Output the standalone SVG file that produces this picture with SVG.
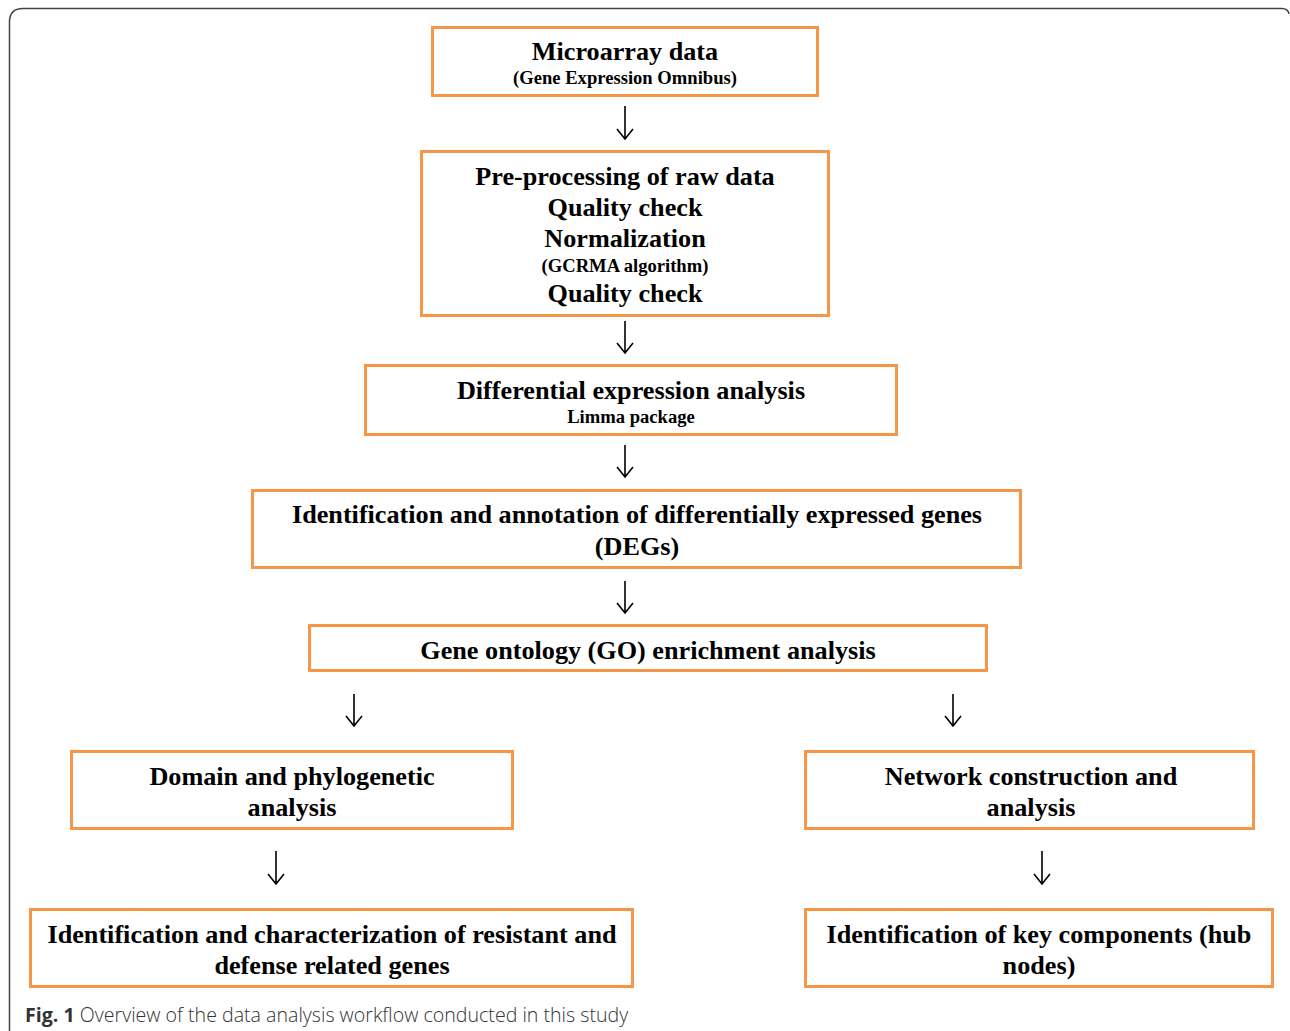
<svg xmlns="http://www.w3.org/2000/svg" width="1290" height="1031" viewBox="0 0 1290 1031">
<style>
.box{fill:#fff;stroke:#f79646;stroke-width:3}
.t{font-family:"Liberation Serif","Times New Roman",serif;font-weight:bold;fill:#000;text-anchor:middle}
.l{font-size:26.2px}
.s{font-size:18.6px}
.c{stroke:#000;stroke-width:1.6;fill:none}
.cap{font-family:"Open Sans","Noto Sans",sans-serif;font-size:19.6px;fill:#333;font-weight:300}
</style>
<rect width="1290" height="1031" fill="#fff"/>
<path d="M9.5 1031 V22 Q9.5 8.5 23 8.5 H1282 Q1288 8.5 1289 14" fill="none" stroke="#444" stroke-width="1.5"/>
<g id="n1"><rect class="box" x="432.5" y="27.5" width="385" height="68"/>
<text class="t l" x="625" y="60">Microarray data</text>
<text class="t s" x="625" y="84">(Gene Expression Omnibus)</text></g>
<g id="n2"><rect class="box" x="421.5" y="151.5" width="407" height="164"/>
<text class="t l" x="625" y="185">Pre-processing of raw data</text>
<text class="t l" x="625" y="216">Quality check</text>
<text class="t l" x="625" y="247">Normalization</text>
<text class="t s" x="625" y="272">(GCRMA algorithm)</text>
<text class="t l" x="625" y="302">Quality check</text></g>
<g id="n3"><rect class="box" x="365.5" y="365.5" width="531" height="69"/>
<text class="t l" x="631" y="399">Differential expression analysis</text>
<text class="t s" x="631" y="423">Limma package</text></g>
<g id="n4"><rect class="box" x="252.5" y="490.5" width="768" height="77"/>
<text class="t l" x="637" y="523">Identification and annotation of differentially expressed genes</text>
<text class="t l" x="637" y="555">(DEGs)</text></g>
<g id="n5"><rect class="box" x="309.5" y="625.5" width="677" height="45"/>
<text class="t l" x="648" y="659">Gene ontology (GO) enrichment analysis</text></g>
<g id="n6"><rect class="box" x="71.5" y="751.5" width="441" height="77"/>
<text class="t l" x="292" y="785">Domain and phylogenetic</text>
<text class="t l" x="292" y="816">analysis</text></g>
<g id="n7"><rect class="box" x="805.5" y="751.5" width="448" height="77"/>
<text class="t l" x="1031" y="785">Network construction and</text>
<text class="t l" x="1031" y="816">analysis</text></g>
<g id="n8"><rect class="box" x="30.5" y="909.5" width="602" height="77"/>
<text class="t l" x="332" y="943">Identification and characterization of resistant and</text>
<text class="t l" x="332" y="974">defense related genes</text></g>
<g id="n9"><rect class="box" x="805.5" y="909.5" width="467" height="77"/>
<text class="t l" x="1039" y="943">Identification of key components (hub</text>
<text class="t l" x="1039" y="974">nodes)</text></g>
<g id="connectors">
<path class="c" d="M625 106V139M617 129L625 139L633 129"/>
<path class="c" d="M625 321V353M617 343L625 353L633 343"/>
<path class="c" d="M625 445V477M617 467L625 477L633 467"/>
<path class="c" d="M625 581V613M617 603L625 613L633 603"/>
<path class="c" d="M354 694V726M346 716L354 726L362 716"/>
<path class="c" d="M953 694V726M945 716L953 726L961 716"/>
<path class="c" d="M276 851V884M268 874L276 884L284 874"/>
<path class="c" d="M1042 851V884M1034 874L1042 884L1050 874"/>
</g>
<text class="cap" x="25" y="1022"><tspan font-weight="bold">Fig. 1</tspan> Overview of the data analysis workflow conducted in this study</text>
</svg>
